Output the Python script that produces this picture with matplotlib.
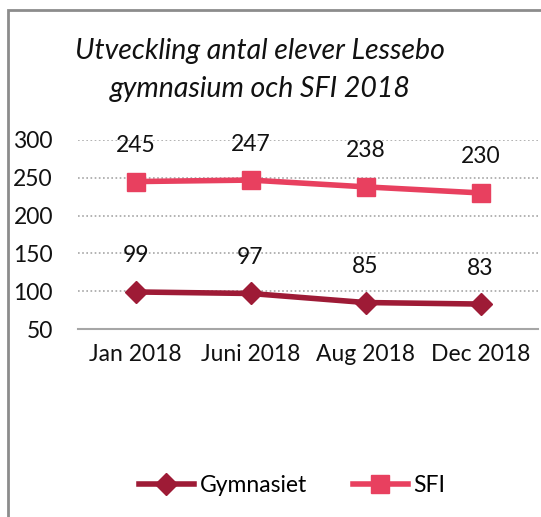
import matplotlib.pyplot as plt
from matplotlib.patches import Rectangle

months = ['Jan 2018', 'Juni 2018', 'Aug 2018', 'Dec 2018']
gymnasiet = [99, 97, 85, 83]
sfi = [245, 247, 238, 230]
yticks = [50, 100, 150, 200, 250, 300]

plt.rcParams['font.family'] = ['Lato', 'DejaVu Sans']

W, H = 541, 517
fig = plt.figure(figsize=(W / 100, H / 100), dpi=100)

# chart border (runs off the right and bottom edge)
fig.patches.append(Rectangle((8 / W, -0.1), 1.2, 1 - 10 / H + 0.1,
                             transform=fig.transFigure, fill=False,
                             edgecolor='#8c8c8c', linewidth=2))

ax = fig.add_axes([78 / W, 1 - 329 / H, 460 / W, 189 / H])
x = list(range(len(months)))

c_gym = '#9e1b36'
c_sfi = '#e8405f'
ax.plot(x, gymnasiet, color=c_gym, linewidth=4, marker='D', markersize=11,
        label='Gymnasiet')
ax.plot(x, sfi, color=c_sfi, linewidth=4, marker='s', markersize=13,
        label='SFI')

for xi, v in zip(x, gymnasiet):
    ax.annotate(str(v), (xi, v), xytext=(0, 36), textcoords='offset pixels',
                ha='center', va='center', fontsize=16.5, color='#111111')
for xi, v in zip(x, sfi):
    ax.annotate(str(v), (xi, v), xytext=(0, 36), textcoords='offset pixels',
                ha='center', va='center', fontsize=16.5, color='#111111')

ax.set_xlim(-0.5, 3.5)
ax.set_ylim(50, 300)
ax.set_yticks(yticks)
ax.set_xticks(x)
ax.set_xticklabels(months)
ax.tick_params(axis='both', length=0, labelsize=16.5, colors='#111111')
ax.tick_params(axis='y', pad=18)
ax.tick_params(axis='x', pad=11)
for yv in yticks[1:]:
    ax.axhline(yv, color='#a6a6a6', linestyle=(0, (1, 1.5)), linewidth=1.2,
               zorder=0)
for s in ['top', 'right', 'left']:
    ax.spines[s].set_visible(False)
ax.spines['bottom'].set_color('#a6a6a6')
ax.spines['bottom'].set_linewidth(1.5)
ax.set_facecolor('none')

fig.text(260 / W, 1 - 70 / H,
         'Utveckling antal elever Lessebo\ngymnasium och SFI 2018',
         ha='center', va='center', fontsize=20.5, style='italic',
         linespacing=1.6, color='#111111')

leg = fig.legend(loc='center', bbox_to_anchor=(292 / W, 1 - 486 / H),
                 ncol=2, frameon=False, fontsize=16.5, handlelength=2.4,
                 columnspacing=2.0, handletextpad=0.25)

fig.savefig('out.png', dpi=100)
